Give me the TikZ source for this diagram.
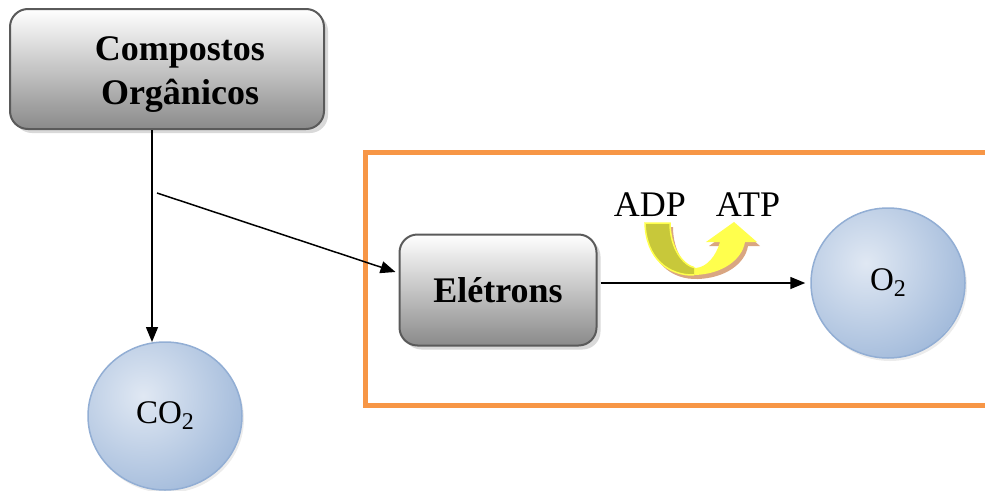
\documentclass[tikz,border=0pt]{standalone}
\usepackage{fontspec}
\setmainfont{Liberation Serif}
\usetikzlibrary{shapes.geometric,arrows.meta,calc,shadows}

\definecolor{boxedge}{HTML}{5A5A5A}
\definecolor{boxbot}{HTML}{8A8A8A}
\definecolor{ringedge}{HTML}{92AED4}
\definecolor{ringlight}{HTML}{E0E8F3}
\definecolor{ringdark}{HTML}{A3BBDB}
\definecolor{frameorange}{HTML}{F79646}
\definecolor{oliveyel}{HTML}{C8C83A}
\definecolor{brightyel}{HTML}{FFFF4D}
\definecolor{shadowbrown}{HTML}{D9A682}

% chemical-formula subscript
\newcommand\subtwo{\raisebox{-0.18em}{\fontsize{24}{24}\selectfont 2}}

\tikzset{
  graybox/.style={draw=boxedge, line width=2pt, rounded corners=18pt,
    top color=white, bottom color=boxbot,
    drop shadow={shadow xshift=4pt, shadow yshift=-4pt, opacity=0.3},
    font=\fontsize{36}{44}\selectfont\bfseries, align=center, inner sep=0pt},
  ball/.style={ellipse, draw=ringedge, line width=1.5pt, fill=ringlight,
    path picture={\shade[inner color=ringlight, outer color=ringdark]
      ($(path picture bounding box.center)+(-22,-20)$) circle (105pt);},
    drop shadow={shadow xshift=2pt, shadow yshift=-3pt, opacity=0.15},
    font=\fontsize{33}{38}\selectfont, inner sep=0pt},
  arr/.style={draw=black, line width=1.5pt, -{Triangle[length=15pt,width=12pt]}},
  plain/.style={font=\fontsize{36}{40}\selectfont, inner sep=0pt},
}

\begin{document}
\begin{tikzpicture}[x=1pt, y=-1pt]
\useasboundingbox (0,0) rectangle (985,490);

% orange frame, open on the right
\draw[frameorange, line width=5pt] (990,152) -- (365,152) -- (365,405) -- (990,405);

% boxes
\node[graybox, minimum width=314pt, minimum height=120pt] (comp) at (167,69) {};
\node[font=\fontsize{36}{44}\selectfont\bfseries, align=center] (comptext) at (180,75) {Compostos\\Orgânicos};
\node[graybox, minimum width=197pt, minimum height=111pt] (ele) at (498,290) {Elétrons};

% circles
\node[ball, minimum width=154pt, minimum height=148pt] (co2) at (165,416) {CO\subtwo};
\node[ball, minimum width=154pt, minimum height=150pt] (o2) at (888,283) {O\subtwo};

% labels
\node[plain] (adp) at (650,205) {ADP};
\node[plain] (atp) at (748,205) {ATP};

% connectors
\coordinate (co2tip) at (152,342);
\coordinate (branch) at (157,193);
\coordinate (ein) at ($(ele.west)+(-3,-18)$);
\draw[arr] (comp.south -| co2tip) -- (co2tip);
\draw[arr] (branch) -- (ein);
\draw[arr, shorten <=3pt, shorten >=5pt] (ele.east |- o2) -- (o2.west);

% curved ADP -> ATP arrow
\def\uarrow{(645,223) .. controls (646,258) and (668,276) .. (695,275)
  .. controls (722,274) and (742,260) .. (745,242) -- (757,242) -- (734,222)
  -- (706,242) -- (720,242) .. controls (716,256) and (707,267) .. (696,268)
  .. controls (683,266) and (670,248) .. (670,223) -- cycle}
\fill[shadowbrown] [shift={(3pt,-4pt)}] \uarrow;
\fill[brightyel] \uarrow;
\begin{scope}
  \clip (630,215) rectangle (694,290);
  \fill[oliveyel, draw=brightyel, line width=1.5pt] \uarrow;
\end{scope}
\end{tikzpicture}
\end{document}
